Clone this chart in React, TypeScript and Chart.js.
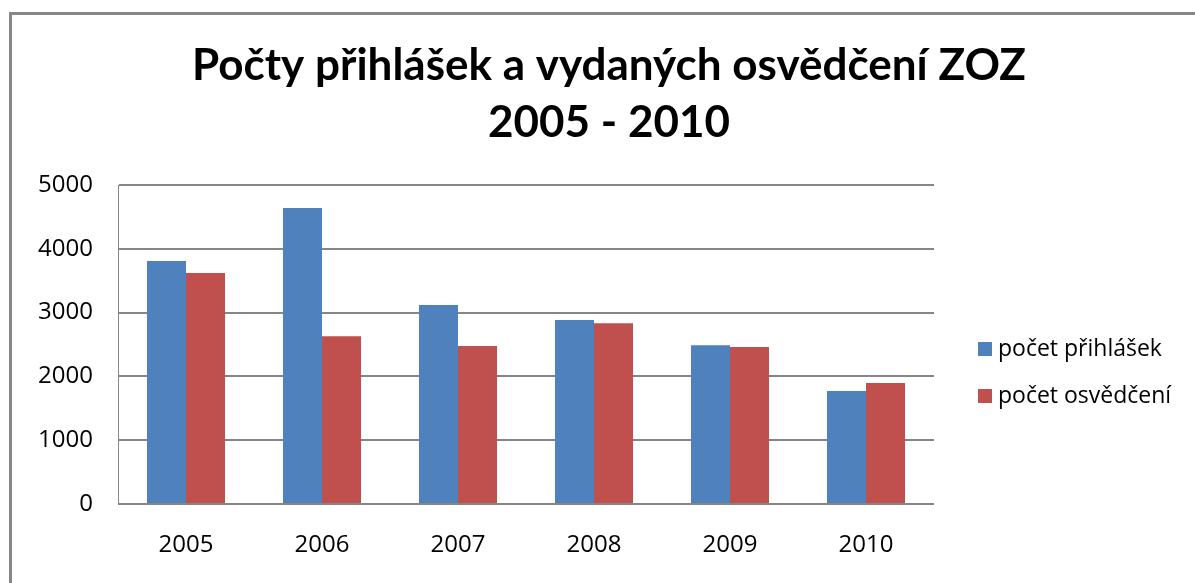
import React, { useEffect, useRef } from "react";
import { Chart, registerables } from "chart.js";

Chart.register(...registerables);

const categories = ["2005", "2006", "2007", "2008", "2009", "2010"];
const prihlasek = [3810, 4640, 3120, 2885, 2490, 1770];
const osvedceni = [3620, 2630, 2475, 2835, 2460, 1895];
const seriesNames = ["počet přihlášek", "počet osvědčení"];
const seriesColors = ["#4F81BD", "#C0504D"];
const titleLines = ["Počty přihlášek a vydaných osvědčení ZOZ", "2005 - 2010"];
const yTicks = [0, 1000, 2000, 3000, 4000, 5000];

const legendPlugin = {
  id: "sideLegend",
  afterDraw(chart: any) {
    const ctx = chart.ctx;
    ctx.save();
    ctx.font = "23px 'Open Sans'";
    ctx.textBaseline = "middle";
    ctx.textAlign = "left";
    chart.data.datasets.forEach((ds: any, i: number) => {
      const cy = 349 + i * 47;
      ctx.fillStyle = ds.backgroundColor;
      ctx.fillRect(978, cy - 7, 14, 14);
      ctx.fillStyle = "#000";
      ctx.fillText(ds.label, 998, cy);
    });
    ctx.restore();
  },
};

export default function App() {
  const ref = useRef<HTMLCanvasElement>(null);
  useEffect(() => {
    if (!ref.current) return;
    const chart = new Chart(ref.current, {
      type: "bar",
      data: {
        labels: categories,
        datasets: [
          { label: seriesNames[0], data: prihlasek, backgroundColor: seriesColors[0] },
          { label: seriesNames[1], data: osvedceni, backgroundColor: seriesColors[1] },
        ],
      },
      options: {
        animation: false,
        responsive: false,
        maintainAspectRatio: false,
        layout: { padding: { left: 23, right: 0, top: 0, bottom: 0 } },
        datasets: { bar: { categoryPercentage: 0.574, barPercentage: 1 } },
        plugins: {
          legend: { display: false },
          tooltip: { enabled: false },
          title: {
            display: true,
            text: titleLines,
            color: "#000",
            font: { family: "Lato", weight: "bold", size: 44, lineHeight: 57 / 44 },
            padding: { top: 37, bottom: 34 },
          },
        },
        scales: {
          x: {
            grid: { display: false, drawTicks: false },
            border: { display: false },
            ticks: { color: "#000", font: { family: "'Open Sans'", size: 24 }, padding: 27, maxRotation: 0 },
            afterFit: (s: any) => { s.height = 79; },
          },
          y: {
            min: 0,
            max: 5000,
            afterBuildTicks: (s: any) => { s.ticks = yTicks.map((v) => ({ value: v })); },
            grid: { color: "#868686", lineWidth: 2, drawTicks: false },
            border: { display: true, color: "#868686", width: 1 },
            ticks: {
              color: "#000",
              font: { family: "'Open Sans'", size: 24 },
              padding: 25,
              callback: (v: any) => String(v),
            },
            afterFit: (s: any) => { s.width = 95; },
          },
          yRight: {
            position: "right",
            display: true,
            grid: { display: false, drawTicks: false },
            border: { display: false },
            ticks: { display: false },
            afterFit: (s: any) => { s.width = 261; },
          },
        },
      },
      plugins: [legendPlugin],
    } as any);
    return () => chart.destroy();
  }, []);
  return (
    <div style={{ position: "absolute", left: 0, top: 0, width: 1195, height: 583, background: "#fff", overflow: "hidden" }}>
      <div
        style={{
          position: "absolute",
          left: 9,
          top: 12,
          width: 1300,
          height: 700,
          borderLeft: "3px solid #868686",
          borderTop: "3px solid #868686",
        }}
      />
      <canvas ref={ref} width={1195} height={583} style={{ position: "absolute", left: 0, top: 0 }} />
    </div>
  );
}
